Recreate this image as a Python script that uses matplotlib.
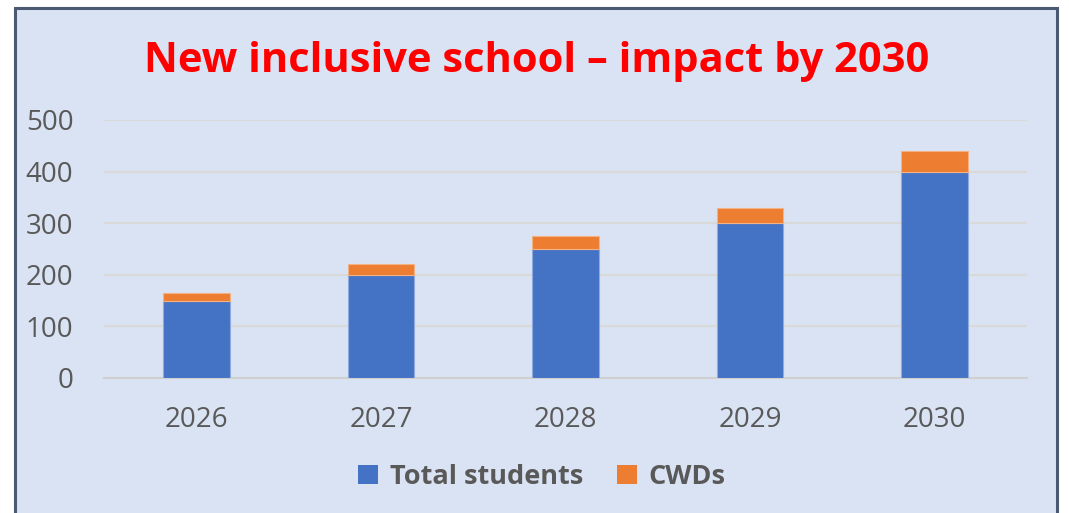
import matplotlib
matplotlib.use("Agg")
import matplotlib.pyplot as plt
from matplotlib.patches import Rectangle, Patch

years = ["2026", "2027", "2028", "2029", "2030"]
total_students = [150, 200, 250, 300, 400]
cwds = [15, 20, 25, 30, 40]
y_ticks = [0, 100, 200, 300, 400, 500]

W, H = 1069, 513
fig = plt.figure(figsize=(W / 100, H / 100), dpi=100)
fig.patch.set_facecolor("white")

bg = "#DAE3F3"
# chart area box
box = Rectangle((15 / W, -0.05), (1057 - 15) / W, 1.05 - 8 / H,
                transform=fig.transFigure, facecolor=bg, edgecolor="#4B5A72",
                linewidth=2.2, zorder=-1)
fig.patches.append(box)

ax = fig.add_axes([104 / W, 1 - 378 / H, (1027 - 104) / W, (378 - 120) / H])
ax.set_zorder(1)
ax.set_facecolor("none")

x = list(range(len(years)))
bw = 0.36
ax.bar(x, total_students, bw, color="#4472C4", edgecolor="#8FAADC", linewidth=0.8,
       label="Total students", zorder=3)
ax.bar(x, cwds, bw, bottom=total_students, color="#ED7D31", edgecolor="#F4B183",
       linewidth=0.8, label="CWDs", zorder=3)

ax.set_xlim(-0.5, len(years) - 0.5)
ax.set_ylim(0, 500)
ax.set_yticks(y_ticks)
ax.set_xticks(x)
ax.set_xticklabels(years)
ax.grid(axis="y", color="#D9D9D9", linewidth=1.5, zorder=0)
ax.set_axisbelow(True)
for s in ["top", "right", "left"]:
    ax.spines[s].set_visible(False)
ax.spines["bottom"].set_color("#D0D0D0")
ax.spines["bottom"].set_linewidth(1.5)
ax.tick_params(axis="both", length=0, labelsize=20, labelcolor="#595959")
ax.tick_params(axis="y", pad=22)
ax.tick_params(axis="x", pad=20)
for lab in ax.get_xticklabels() + ax.get_yticklabels():
    lab.set_fontfamily("Open Sans")

fig.text(537 / W, 1 - 61 / H, "New inclusive school \u2013 impact by 2030",
         ha="center", va="center", color="#FF0000", fontsize=30,
         fontweight="bold", family="Open Sans")

handles = [Patch(facecolor="#4472C4", label="Total students"),
           Patch(facecolor="#ED7D31", label="CWDs")]
leg = fig.legend(handles=handles, loc="center", bbox_to_anchor=(542 / W, 1 - 477 / H),
                 ncol=2, frameon=False, handlelength=0.72, handleheight=0.72,
                 handletextpad=0.45, columnspacing=1.25,
                 prop={"family": "Open Sans", "weight": "bold", "size": 19.5})
for t in leg.get_texts():
    t.set_color("#595959")

fig.savefig("out.png", dpi=100, facecolor="white")
